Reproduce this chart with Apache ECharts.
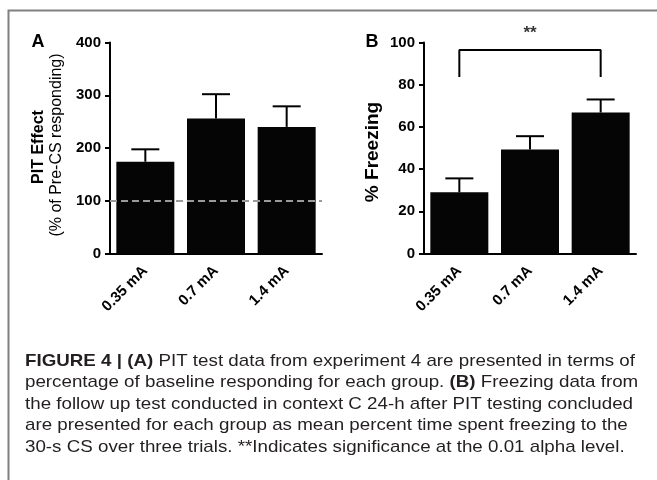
<!DOCTYPE html>
<html>
<head>
<meta charset="utf-8">
<script src="https://cdn.jsdelivr.net/npm/echarts@6/dist/echarts.min.js"></script>
<style>
  html, body { margin: 0; padding: 0; background: #fff; }
  #chart { width: 657px; height: 480px; }
</style>
</head>
<body>
<div id="chart"></div>
<script>
const doses = ['0.35 mA', '0.7 mA', '1.4 mA'];

// panel A: PIT effect, % of pre-CS responding
const pitMean = [174, 256, 240];
const pitUpper = [197.5, 302, 279];

// panel B: % freezing
const freezeMean = [29, 49.3, 66.8];
const freezeUpper = [35.6, 55.6, 73];

// significance bracket between first and last group
const bracket = [[0, 83.7], [0, 96.5], [2, 96.5], [2, 83.7]];

const captionLines = [
  '{b|FIGURE 4 | (A)} PIT test data from experiment 4 are presented in terms of',
  'percentage of baseline responding for each group. {b|(B)} Freezing data from',
  'the follow up test conducted in context C 24-h after PIT testing concluded',
  'are presented for each group as mean percent time spent freezing to the',
  '30-s CS over three trials. **Indicates significance at the 0.01 alpha level.'
];

const FONT = 'Liberation Sans, Arial, sans-serif';
const CAP_SIZE = 17;

// squeeze caption text to the width of the printed caption
const ctx = document.createElement('canvas').getContext('2d');
function lineWidth(line) {
  let w = 0;
  line.split(/(\{b\|[^}]*\})/).forEach(part => {
    const m = part.match(/^\{b\|(.*)\}$/);
    ctx.font = (m ? 'bold ' : '') + CAP_SIZE + 'px ' + FONT;
    w += ctx.measureText(m ? m[1] : part).width;
  });
  return w;
}
const capScale = 610 / lineWidth(captionLines[0]);

const chart = echarts.init(document.getElementById('chart'));

const axisLabelStyle = { color: '#000', fontFamily: FONT, fontWeight: 'bold', fontSize: 15 };

function yAxisFor(grid, max, interval) {
  return {
    type: 'value', gridIndex: grid, min: 0, max: max, interval: interval,
    axisLine: { show: true, lineStyle: { color: '#000', width: 2 } },
    axisTick: { show: true, length: 5, lineStyle: { color: '#000', width: 2 } },
    axisLabel: Object.assign({ margin: 9 }, axisLabelStyle),
    splitLine: { show: false }
  };
}

function xAxisFor(grid) {
  return {
    type: 'category', gridIndex: grid, data: doses,
    axisLine: { lineStyle: { color: '#000', width: 2 } },
    axisTick: { alignWithLabel: true, length: 6, lineStyle: { color: '#000', width: 2 } },
    axisLabel: Object.assign({ rotate: 45, margin: 15, interval: 0 }, axisLabelStyle)
  };
}

function errorBars(axisIdx, mean, upper) {
  return {
    type: 'custom', xAxisIndex: axisIdx, yAxisIndex: axisIdx, z: 5,
    data: doses.map((d, i) => [i, mean[i], upper[i]]),
    encode: { x: 0, y: [1, 2] },
    renderItem: (params, api) => {
      const base = api.coord([api.value(0), api.value(1)]);
      const top = api.coord([api.value(0), api.value(2)]);
      const st = { stroke: '#000', lineWidth: 2 };
      return {
        type: 'group',
        children: [
          { type: 'line', shape: { x1: top[0], y1: base[1], x2: top[0], y2: top[1] }, style: st },
          { type: 'line', shape: { x1: top[0] - 14, y1: top[1], x2: top[0] + 14, y2: top[1] }, style: st }
        ]
      };
    }
  };
}

const captionGraphics = captionLines.map((line, i) => ({
  type: 'text',
  x: 25, y: 361 + i * 21.5,
  scaleX: capScale,
  style: {
    text: line,
    fill: '#231f20',
    font: CAP_SIZE + 'px ' + FONT,
    verticalAlign: 'middle',
    rich: {
      b: { fontWeight: 'bold', fontSize: CAP_SIZE, fontFamily: FONT, fill: '#231f20' }
    }
  }
}));

const option = {
  animation: false,
  backgroundColor: '#fff',
  grid: [
    { left: 110, top: 42.5, width: 212, height: 211 },
    { left: 424, top: 42.5, width: 212, height: 211 }
  ],
  xAxis: [xAxisFor(0), xAxisFor(1)],
  yAxis: [yAxisFor(0, 400, 100), yAxisFor(1, 100, 20)],
  series: [
    {
      type: 'bar', xAxisIndex: 0, yAxisIndex: 0, data: pitMean, barWidth: 58,
      itemStyle: { color: '#050505' },
      markLine: {
        silent: true, symbol: 'none', label: { show: false },
        lineStyle: { color: '#9a9a9a', type: [7, 4], width: 2 },
        data: [{ yAxis: 100 }]
      }
    },
    errorBars(0, pitMean, pitUpper),
    {
      type: 'bar', xAxisIndex: 1, yAxisIndex: 1, data: freezeMean, barWidth: 58,
      itemStyle: { color: '#050505' }
    },
    errorBars(1, freezeMean, freezeUpper),
    {
      type: 'line', xAxisIndex: 1, yAxisIndex: 1, data: bracket,
      symbol: 'none', lineStyle: { color: '#000', width: 2 }
    },
    {
      type: 'scatter', xAxisIndex: 1, yAxisIndex: 1, data: [[1, 96.5]],
      symbolSize: 0,
      label: {
        show: true, position: 'top', distance: 8, formatter: '**',
        color: '#000', fontFamily: FONT, fontWeight: 'bold', fontSize: 17
      }
    }
  ],
  graphic: [
    {
      type: 'polyline', silent: true,
      shape: { points: [[8.5, 480], [8.5, 10.5], [657, 10.5]] },
      style: { stroke: '#808080', lineWidth: 2, fill: null }
    },
    { type: 'text', x: 38, y: 42, style: { text: 'A', font: 'bold 18px ' + FONT, fill: '#000', align: 'center', verticalAlign: 'middle' } },
    { type: 'text', x: 372, y: 42, style: { text: 'B', font: 'bold 18px ' + FONT, fill: '#000', align: 'center', verticalAlign: 'middle' } },
    { type: 'text', x: 39, y: 147, rotation: Math.PI / 2, style: { text: 'PIT Effect', font: 'bold 16px ' + FONT, fill: '#000', align: 'center', verticalAlign: 'middle' } },
    { type: 'text', x: 57, y: 145, rotation: Math.PI / 2, style: { text: '(% of Pre-CS responding)', font: '16px ' + FONT, fill: '#000', align: 'center', verticalAlign: 'middle' } },
    { type: 'text', x: 373, y: 152, rotation: Math.PI / 2, style: { text: '% Freezing', font: 'bold 19px ' + FONT, fill: '#000', align: 'center', verticalAlign: 'middle' } }
  ].concat(captionGraphics)
};

chart.setOption(option);
</script>
</body>
</html>
